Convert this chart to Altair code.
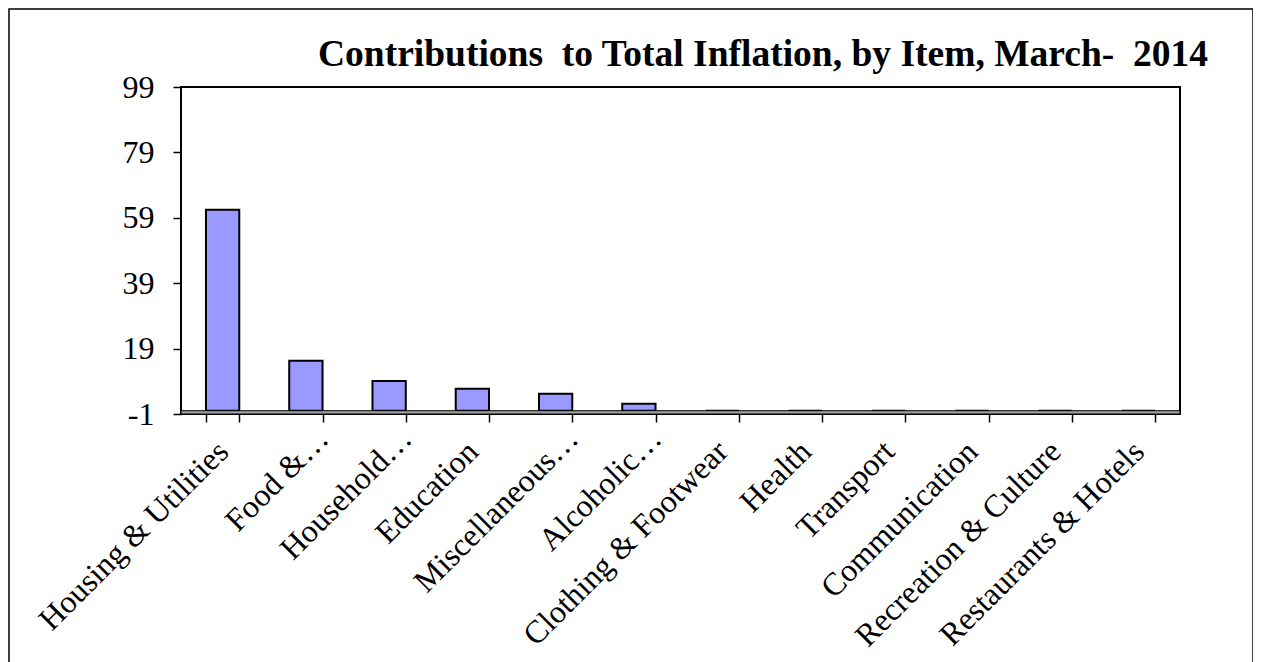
import altair as alt
import pandas as pd

categories = [
    "Housing & Utilities", "Food &…", "Household…", "Education",
    "Miscellaneous…", "Alcoholic…", "Clothing & Footwear", "Health",
    "Transport", "Communication", "Recreation & Culture", "Restaurants & Hotels",
]
values = [61.5, 15.3, 9.1, 6.7, 5.2, 2.1, 0, 0, 0, 0, 0, 0]
y_ticks = [-1, 19, 39, 59, 79, 99]
title_text = "Contributions \u00a0to Total Inflation, by Item, March- \u00a02014"

W, H = 999, 327
FONT = "Liberation Serif"

df = pd.DataFrame({"item": categories, "value": values})
band_df = pd.DataFrame({"lo": [-1], "hi": [0]})

yscale = alt.Scale(domain=[-1, 99], nice=False)

ellipsis_test = "indexof(datum.label, '…') >= 0"

bars = alt.Chart(df).mark_bar(fill="#9999FF", stroke="black", strokeWidth=2).encode(
    x=alt.X(
        "item:N", sort=categories,
        scale=alt.Scale(paddingInner=0.6, paddingOuter=0.3),
        axis=alt.Axis(
            title=None, labelAngle=-45, labelAlign="right", labelBaseline="middle",
            labelFont=FONT, labelFontSize=32, labelColor="black", labelLimit=600,
            tickBand="extent", tickColor="black", tickSize=8, tickWidth=1.5,
            domain=False,
            labelPadding={"condition": {"test": ellipsis_test, "value": 11}, "value": 24},
            labelOffset={"condition": {"test": ellipsis_test, "value": 17}, "value": 0},
        ),
    ),
    y=alt.Y(
        "value:Q", scale=yscale,
        axis=alt.Axis(
            values=y_ticks, title=None, grid=False, labelFont=FONT, labelFontSize=32,
            labelColor="black", tickColor="black", tickSize=8, tickWidth=1.5,
            domain=False, labelPadding=19, labelExpr="'' + datum.value",
        ),
    ),
    y2=alt.datum(0),
)

axis_band = alt.Chart(band_df).mark_rect(fill="#a0a0a0", stroke="black", strokeWidth=1).encode(
    y=alt.Y("lo:Q", scale=yscale),
    y2="hi:Q",
    x=alt.value(0),
    x2=alt.value(W),
)

frame = alt.Chart(band_df).mark_rect(fillOpacity=0, stroke="black", strokeWidth=1.5).encode(
    x=alt.value(-172), x2=alt.value(1072), y=alt.value(-78), y2=alt.value(700),
)

title = alt.Chart(band_df).mark_text(
    text=title_text, align="left", baseline="alphabetic",
    font=FONT, fontSize=37.5, fontWeight="bold", color="black",
).encode(x=alt.value(137), y=alt.value(-21))

chart = alt.layer(frame, bars, axis_band, title).properties(
    width=W, height=H,
    autosize="none",
    padding={"left": 173, "top": 79, "right": 73, "bottom": 248},
).configure(background="white").configure_view(stroke="black", strokeWidth=2)

chart.save("out.html", embed_options={"renderer": "svg", "actions": False})
